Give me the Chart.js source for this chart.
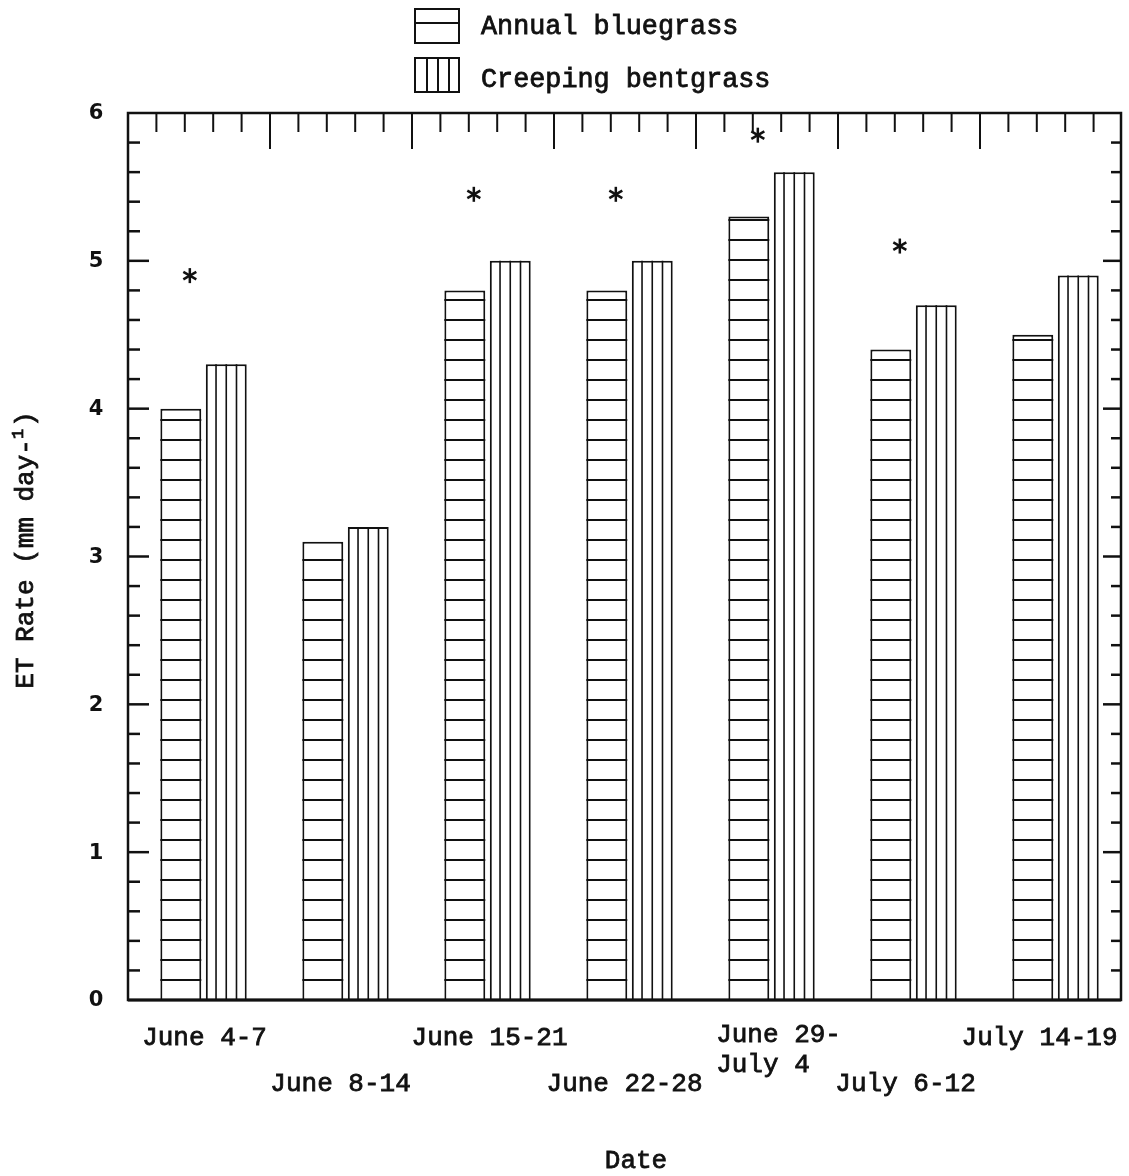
<!DOCTYPE html>
<html>
<head>
<meta charset="utf-8">
<script src="https://cdn.jsdelivr.net/npm/chart.js@4.4.0/dist/chart.umd.min.js"></script>
<style>
  html, body { margin: 0; padding: 0; background: #fff; }
</style>
</head>
<body>
<canvas id="etChart" width="1129" height="1176"></canvas>
<script>
const periodos = ["June 4-7", "June 8-14", "June 15-21", "June 22-28", ["June 29-", "July 4"], "July 6-12", "July 14-19"];
const annualBluegrass = [4.0, 3.1, 4.8, 4.8, 5.3, 4.4, 4.5];
const creepingBentgrass = [4.3, 3.2, 5.0, 5.0, 5.6, 4.7, 4.9];
// altura del asterisco de cada periodo (null = sin diferencia)
const asteriscos = [4.9, null, 5.45, 5.45, 5.85, 5.1, null];
const yTicks = [0, 1, 2, 3, 4, 5, 6];

// etiquetas en dos filas, con pequeños corrimientos
const filaEtiqueta = [0, 1, 0, 1, 0, 1, 0];
const corrimiento = [1, -5, 2, -5, 7, -8, -16];

const TINTA = "#111";
const MONO = "26px 'Liberation Mono', 'Courier New', monospace";

function linea(ctx, x1, y1, x2, y2){
    ctx.beginPath();
    ctx.moveTo(x1, y1);
    ctx.lineTo(x2, y2);
    ctx.stroke();
}

// texto un poco mas grueso, como de maquina de escribir
function texto(ctx, t, x, y){
    ctx.fillText(t, x, y);
    ctx.strokeText(t, x, y);
}

function asterisco(ctx, cx, cy, r){
    for(const ang of [90, 30, 150]){
        const a = ang * Math.PI / 180;
        linea(ctx, cx - r * Math.cos(a), cy - r * Math.sin(a), cx + r * Math.cos(a), cy + r * Math.sin(a));
    }
}

const rayado = {
    id: "rayado",
    afterDatasetsDraw(chart){
        const ctx = chart.ctx;
        ctx.save();
        ctx.strokeStyle = TINTA;

        // bluegrass: lineas horizontales cada 20 px desde la base
        chart.getDatasetMeta(0).data.forEach(function(el){
            const p = el.getProps(["x", "y", "base", "width"], true);
            const izq = p.x - p.width / 2;
            ctx.lineWidth = 2;
            for(let yy = p.base - 20; yy > p.y + 2; yy -= 20){
                linea(ctx, izq, yy, izq + p.width, yy);
            }
        });

        // bentgrass: lineas verticales
        chart.getDatasetMeta(1).data.forEach(function(el){
            const p = el.getProps(["x", "y", "base", "width"], true);
            const izq = p.x - p.width / 2;
            ctx.lineWidth = 1.6;
            for(let k = 1; k < 4; k++){
                const xx = izq + k * p.width / 4;
                linea(ctx, xx, p.y, xx, p.base);
            }
        });

        ctx.restore();
    }
};

const marco = {
    id: "marco",
    afterDraw(chart){
        const ctx = chart.ctx;
        const a = chart.chartArea;
        const xs = chart.scales.x;
        const ys = chart.scales.y;

        ctx.save();
        ctx.strokeStyle = TINTA;
        ctx.fillStyle = TINTA;
        ctx.lineCap = "butt";

        // recuadro
        ctx.lineWidth = 2.5;
        ctx.strokeRect(a.left, a.top, a.right - a.left, a.bottom - a.top);
        ctx.lineWidth = 3;
        linea(ctx, a.left, a.bottom, a.right, a.bottom);

        // marcas del eje y, a ambos lados
        ctx.lineWidth = 2.5;
        for(let k = 1; k < 30; k++){
            const py = ys.getPixelForValue(k / 5);
            const mayor = k % 5 === 0;
            linea(ctx, a.left, py, a.left + (mayor ? 21 : 12), py);
            linea(ctx, a.right, py, a.right - (mayor ? 18 : 10), py);
        }

        // marcas superiores
        ctx.lineWidth = 2;
        for(let k = 1; k < 35; k++){
            const px = xs.getPixelForValue(xs.min + k * 0.2);
            linea(ctx, px, a.top, px, a.top + (k % 5 === 0 ? 36 : 19));
        }

        // numeros del eje y
        ctx.font = "bold 21px 'DejaVu Sans', sans-serif";
        ctx.textAlign = "center";
        ctx.textBaseline = "middle";
        yTicks.forEach(function(v){
            ctx.fillText(String(v), 96, ys.getPixelForValue(v) + 1);
        });

        // fechas
        ctx.font = MONO;
        ctx.lineWidth = 0.8;
        ctx.textBaseline = "alphabetic";
        const barras = chart.getDatasetMeta(0).data;
        const barras2 = chart.getDatasetMeta(1).data;
        periodos.forEach(function(et, i){
            const cx = (barras[i].x + barras2[i].x) / 2 + corrimiento[i];
            const base = filaEtiqueta[i] === 0 ? 1045 : 1091;
            if(Array.isArray(et)){
                const w = ctx.measureText(et[0]).width;
                ctx.textAlign = "left";
                texto(ctx, et[0], cx - w / 2, base - 3);
                texto(ctx, et[1], cx - w / 2, base + 27);
            } else {
                ctx.textAlign = "center";
                texto(ctx, et, cx, base);
            }
        });

        // titulo eje x
        ctx.textAlign = "center";
        texto(ctx, "Date", 636, 1168);

        // titulo eje y con exponente
        ctx.save();
        ctx.translate(33, 551);
        ctx.rotate(-Math.PI / 2);
        ctx.textAlign = "left";
        const t1 = "ET Rate (mm day-";
        const w1 = ctx.measureText(t1).width;
        ctx.font = "17px 'Liberation Mono', monospace";
        const w2 = ctx.measureText("1").width;
        ctx.font = MONO;
        const w3 = ctx.measureText(")").width;
        const x0 = -(w1 + w2 + w3) / 2;
        texto(ctx, t1, x0, 0);
        ctx.font = "17px 'Liberation Mono', monospace";
        texto(ctx, "1", x0 + w1, -10);
        ctx.font = MONO;
        texto(ctx, ")", x0 + w1 + w2 + 2, 0);
        ctx.restore();

        // asteriscos
        ctx.lineWidth = 2.5;
        asteriscos.forEach(function(v, i){
            if(v === null) return;
            asterisco(ctx, barras[i].x + 9, ys.getPixelForValue(v), 7.5);
        });

        // leyenda
        ctx.lineWidth = 2;
        ctx.strokeRect(415, 9, 44, 34);
        linea(ctx, 415, 23, 459, 23);
        ctx.strokeRect(415, 58, 44, 34);
        [427, 438, 449].forEach(function(xx){ linea(ctx, xx, 58, xx, 92); });
        ctx.lineWidth = 0.8;
        ctx.textAlign = "left";
        ctx.font = "26.8px 'Liberation Mono', 'Courier New', monospace";
        texto(ctx, "Annual bluegrass", 481, 34);
        texto(ctx, "Creeping bentgrass", 481, 87);

        ctx.restore();
    }
};

const ctx = document.getElementById("etChart");

new Chart(ctx, {
    type: "bar",
    data: {
        datasets: [
            {
                label: "Annual bluegrass",
                data: annualBluegrass.map(function(v, i){ return { x: i, y: v }; }),
                backgroundColor: "#fff",
                borderColor: TINTA,
                borderWidth: 2,
                categoryPercentage: 0.64,
                barPercentage: 0.9
            },
            {
                label: "Creeping bentgrass",
                data: creepingBentgrass.map(function(v, i){ return { x: i, y: v }; }),
                backgroundColor: "#fff",
                borderColor: TINTA,
                borderWidth: 2,
                categoryPercentage: 0.64,
                barPercentage: 0.9
            }
        ]
    },
    options: {
        responsive: false,
        animation: false,
        layout: {
            padding: { left: 128, top: 113, right: 8, bottom: 176 }
        },
        plugins: {
            legend: { display: false },
            tooltip: { enabled: false }
        },
        scales: {
            x: {
                type: "linear",
                display: false,
                offset: false,
                grid: { offset: false },
                min: -0.532,
                max: 6.461,
                ticks: { stepSize: 1, includeBounds: false }
            },
            y: { display: false, min: 0, max: 6 }
        }
    },
    plugins: [rayado, marco]
});
</script>
</body>
</html>
